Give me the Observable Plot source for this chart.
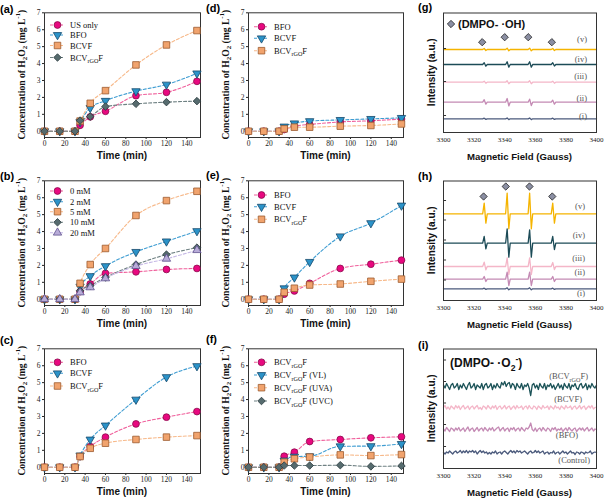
<!DOCTYPE html>
<html><head><meta charset="utf-8">
<script src="https://cdn.jsdelivr.net/npm/d3@7"></script>
<script src="https://cdn.jsdelivr.net/npm/@observablehq/plot@0.6"></script>
<style>
body{margin:0;background:#fff;}
#fig{position:relative;width:609px;height:499px;overflow:hidden;background:#fff;}
#fig svg{position:absolute;overflow:visible;}
.plab{position:absolute;font:bold 11px "Liberation Sans",Arial,sans-serif;color:#000;line-height:13px;}
</style></head><body><div id="fig"></div>
<script>
// ---------------- DATA ----------------
const time = [0, 15, 30, 35, 45, 60, 90, 120, 150];
const timeTicks = [0, 20, 40, 60, 80, 100, 120, 140];
const concTicks = [0, 1, 2, 3, 4, 5, 6, 7];

// (a)
const legendA = ["US only", "BFO", "BCVF", "BCV_{rGO}F"];
const aUSonly  = [0, 0, 0, 0.35, 0.85, 1.18, 2.10, 2.30, 2.95];
const aBFO     = [0, 0, 0, 0.55, 1.38, 1.80, 2.37, 2.76, 3.42];
const aBCVF    = [0, 0, 0, 0.60, 1.65, 2.40, 3.92, 5.10, 5.95];
const aBCVrGOF = [0, 0, 0, 0.63, 0.87, 1.46, 1.62, 1.72, 1.78];
// (b)
const legendB = ["0 mM", "2 mM", "5 mM", "10 mM", "20 mM"];
const b0  = [0, 0, 0, 0.45, 0.90, 1.53, 1.62, 1.76, 1.82];
const b2  = [0, 0, 0, 0.75, 1.37, 1.96, 2.80, 3.42, 4.03];
const b5  = [0, 0, 0, 0.94, 2.05, 3.00, 4.95, 5.83, 6.38];
const b10 = [0, 0, 0, 0.50, 0.80, 1.29, 2.05, 2.64, 3.05];
const b20 = [0, 0, 0, 0.40, 0.70, 1.23, 1.96, 2.39, 2.90];
// (c)
const legendC = ["BFO", "BCVF", "BCV_{rGO}F"];
const cBFO     = [0, 0, 0, 0.63, 1.22, 1.78, 2.56, 2.96, 3.29];
const cBCVF    = [0, 0, 0, 0.70, 1.64, 2.47, 4.00, 5.33, 5.98];
const cBCVrGOF = [0, 0, 0, 0.63, 1.12, 1.42, 1.64, 1.78, 1.87];
// (d)
const legendD = ["BFO", "BCVF", "BCV_{rGO}F"];
const dBFO     = [0, 0, 0, 0.10, 0.30, 0.40, 0.55, 0.62, 0.72];
const dBCVF    = [0, 0, 0, 0.28, 0.47, 0.60, 0.67, 0.73, 0.79];
const dBCVrGOF = [0, 0, 0, 0.14, 0.24, 0.24, 0.30, 0.34, 0.43];
// (e)
const legendE = ["BFO", "BCVF", "BCV_{rGO}F"];
const eBFO     = [0, 0, 0, 0.30, 0.49, 0.94, 1.82, 2.07, 2.31];
const eBCVF    = [0, 0, 0, 0.65, 1.29, 2.21, 3.72, 4.50, 5.54];
const eBCVrGOF = [0, 0, 0, 0.41, 0.65, 0.84, 0.90, 1.06, 1.19];
// (f)
const legendF = ["BCV_{rGO}F", "BCV_{rGO}F (VL)", "BCV_{rGO}F (UVA)", "BCV_{rGO}F (UVC)"];
const fDark = [0, 0, 0, 0.65, 0.89, 1.52, 1.64, 1.74, 1.80];
const fVL   = [0, 0, 0, 0.40, 0.63, 0.65, 1.24, 1.25, 1.38];
const fUVA  = [0, 0, 0, 0.30, 0.50, 0.60, 0.73, 0.69, 0.75];
const fUVC  = [0, 0, 0, 0.10, 0.10, 0.10, 0.12, 0.05, 0.08];

// EPR
const fieldTicks = [3300, 3320, 3340, 3360, 3380, 3400];
const ohLines = [3327, 3342, 3356.7, 3371.8];
const eprLabels = ["(v)", "(iv)", "(iii)", "(ii)", "(i)"];
// (g) baselines and [up, down] amplitudes of each DMPO-OH line (a.u.)
const gBase = [83, 68, 50.3, 30.3, 13.7];
const gAmp = [
  [[1, 1], [1.3, 1.3], [1.3, 1.3], [1, 1]],
  [[1.7, 1.7], [2.7, 2.7], [2.7, 2.7], [1.7, 1.5]],
  [[1, 1], [1.5, 1.5], [1.5, 1.5], [1, 1]],
  [[2.5, 2], [3.7, 3.7], [3, 3.3], [2, 2]],
  [[0.6, 0.6], [0.8, 0.8], [0.8, 0.8], [0.6, 0.6]]
];
const gMarkF = [3325.3, 3340, 3355.4, 3370.8];
const gMarkV = [90.3, 95.3, 95.3, 90.3];
// (h)
const hBase = [86.7, 57.3, 34, 21.3, 11.7];
const hAmp = [
  [[10.7, 9.3], [20.7, 15], [20.7, 15], [10.7, 9.3]],
  [[6.7, 5.7], [14.3, 14], [13.3, 14], [6.7, 6.3]],
  [[4.3, 3.3], [8.7, 8], [8.7, 8], [4, 3]],
  [[2.7, 2.3], [7, 6.3], [7, 6.3], [2.7, 2.3]],
  [[0.6, 0.6], [1, 1], [1, 1], [0.6, 0.6]]
];
const hMarkF = [3326.2, 3340.7, 3356.2, 3371.1];
const hMarkV = [104, 114, 114, 104];
// (i) DMPO-O2- spectra, one reading per gauss from 3300 G to 3400 G
const iLabels = ["(BCV_{rGO}F)", "(BCVF)", "(BFO)", "(Control)"];
const iBase = [82, 61, 39, 16];
const iBCVrGOF = [1.5,-1.5,3,0,-3,1.5,3,-1.5,0,3, -3,1.5,-1.5,3,0,-3,1.5,4,-1.5,0, 3,-3,1.5,0,-1.5,3,-3,1.5,3,-1.5, 0,3,-3,1.5,-1.5,3,0,-1.5,4,1.5,
  5,0,3,4,-1.5,3,1.5,-3,3,0, -1.5,3,-3,1.5,0,3,-1.5,-9,1.5,3, -1.5,1.5,-3,3,0,-1.5,3,-3,1.5,0, 3,-1.5,1.5,-3,0,3,-1.5,1.5,-3,3,
  0,-1.5,3,-3,1.5,0,3,-1.5,-3,1.5, 3,-1.5,0,3,-3,1.5,-1.5,3,0,-1.5, 1.5];
const iBCVF = [0,2,-1.5,0.5,-2,1.5,0,-1.5,2,-0.5, 1.5,-2,0.5,2,-1.5,0,1.5,-2,0.5,1.5, -1.5,0.5,2,-1.5,0,-2,1.5,0.5,-1.5,2,
  0,-1.5,1.5,-0.5,2,-2,0.5,1.5,-1.5,0, 2,-1.5,0.5,1.5,-2,0,1.5,-1.5,2,-0.5, 0,1.5,-2,0.5,1.5,-1.5,2,-0.5,-1.5,1.5,
  0.5,-2,1.5,0,-1.5,2,-0.5,0,1.5,-2, 1.5,0,-1.5,2,-0.5,0.5,-2,1.5,0,-1.5, 2,-0.5,0,1.5,-2,0.5,1.5,-1.5,0,2,
  -1.5,0.5,1.5,-2,0,1.5,-0.5,2,-1.5,0, 0.5];
const iBFO = [0.5,-1.5,2,0,-2,1.5,0.5,-1.5,1.5,-0.5, 2,-1.5,0,1.5,-2,0.5,2.5,-1.5,0.5,1.5, -2,0,2,-1.5,0.5,1.5,-1.5,2,0,-1.5,
  1.5,-0.5,2,-1.5,0,1.5,2.5,-1.5,0.5,2, -1.5,0.5,1.5,-2,1.5,0,2,-1.5,0.5,1.5, -1.5,2,0,-1.5,1.5,0.5,2.5,6.5,0,-1.5,
  1.5,-2,0.5,1.5,-1.5,2,0,-1.5,1.5,0.5, -2,1.5,0,2,-1.5,0.5,-0.5,1.5,-2,0, 1.5,-1.5,2,0,-1.5,0.5,1.5,-2,0,1.5,
  -0.5,1.5,-1.5,0.5,2,-1.5,0,1.5,-1.5,0.5, 0];
const iControl = [0,-1.5,0.5,-0.5,1.5,0,-1.5,0.5,1.5,-0.5, 0.5,2,-0.5,1.5,0,2,-0.5,1.5,0.5,2, 0,1.5,-1.5,0.5,2,0,1.5,-0.5,0.5,-1.5,
  0,-1.5,0.5,-0.5,1.5,-1.5,0,0.5,-1.5,0.5, 1.5,0,-1.5,0.5,2,0,1.5,-0.5,2,0.5, 1.5,-0.5,0.5,1.5,0,-1.5,0.5,1.5,-0.5,0,
  2,0,1.5,-0.5,0.5,1.5,-1.5,0,0.5,-1.5, 0,-0.5,1.5,-1.5,0,0.5,-1.5,0,1.5,-0.5, 0.5,-1.5,0,1.5,-0.5,0,-2,0.5,0,-1.5,
  0.5,0,-1.5,0.5,-0.5,0,1.5,-1.5,0,0.5, 0];

// ---------------- STYLES ----------------
const triDown = {draw(ctx, size) {
  const y = -Math.sqrt(size / (Math.sqrt(3) * 3));
  ctx.moveTo(0, -y * 2); ctx.lineTo(-Math.sqrt(3) * y, y); ctx.lineTo(Math.sqrt(3) * y, y); ctx.closePath();
}};
const STY = {
  mag: {symbol: d3.symbolCircle, r: 3.4, fill: "#e8087f", stroke: "#8a0b4c", line: "#f0609c"},
  blu: {symbol: triDown, r: 3.1, fill: "#2b93c9", stroke: "#17496b", line: "#3f9dd2"},
  ora: {symbol: d3.symbolSquare, r: 3.7, fill: "#f1a36d", stroke: "#9c5a2e", line: "#f7b98a"},
  gry: {symbol: d3.symbolDiamond2, r: 3.4, fill: "#566b6e", stroke: "#2a3a3d", line: "#6f8183"},
  lav: {symbol: d3.symbolTriangle, r: 3.1, fill: "#b8acd8", stroke: "#5d4f8d", line: "#c6b9e6"}
};
const eprColors = ["#f5b400", "#1c4b57", "#f4b6c8", "#c48ab4", "#4b5a7c"];
const iColors = ["#1c5358", "#f4b6c8", "#c48ab4", "#4b5a7c"];

const fig = document.getElementById("fig");
function place(svg, left, top) { svg.style.left = left + "px"; svg.style.top = top + "px"; fig.appendChild(svg); }
function panelLabel(txt, x, y) { const d = document.createElement("div"); d.className = "plab"; d.textContent = txt; d.style.left = x + "px"; d.style.top = (y - 6.5) + "px"; fig.appendChild(d); }
function rich(t, str, size) {
  const re = /([_^])\{([^}]*)\}|([^_^]+)/g; let m, shift = 0;
  while ((m = re.exec(str))) {
    if (m[3]) { const s = t.append("tspan").text(m[3]); if (shift) s.attr("dy", -shift); shift = 0; }
    else { const v = m[1] === "_" ? size * 0.3 : -size * 0.42; t.append("tspan").attr("dy", v - shift).attr("font-size", size * 0.72).text(m[2]); shift = v; }
  }
}

// ---------------- LINE PANELS ----------------
function linePanel(cfg) {
  const {left, top, width, ml, mr, xmax, series, names, leg} = cfg;
  const H = 165, mt = 12.3, mb = 28;
  const sets = series.map(([vals, key]) => ({st: STY[key], rows: time.map((t, i) => ({t, v: vals[i]}))}));
  const svg = Plot.plot({
    width, height: H, marginLeft: ml, marginRight: mr, marginTop: mt, marginBottom: mb,
    style: {fontFamily: "'Liberation Serif', serif", fontSize: "7.5px", color: "#222", background: "transparent", overflow: "visible"},
    x: {domain: [0, xmax], ticks: timeTicks, tickSize: 2, tickPadding: 1, tickFormat: d3.format("d"), label: null},
    y: {domain: [-0.37, 7], ticks: concTicks, tickSize: 2, tickPadding: 2, tickFormat: d3.format("d"), label: null},
    marks: [
      ...sets.map(s => Plot.line(s.rows, {x: "t", y: "v", stroke: s.st.line, strokeWidth: 1.1, strokeDasharray: "3,2", curve: "monotone-x"})),
      Plot.frame({stroke: "#333", strokeWidth: 1}),
      ...sets.map(s => Plot.dot(s.rows, {x: "t", y: "v", symbol: s.st.symbol, r: s.st.r, fill: s.st.fill, stroke: s.st.stroke, strokeWidth: 0.8}))
    ]
  });
  const g = d3.select(svg).append("g");
  names.forEach((nm, i) => {
    const st = STY[series[i][1]], y = leg[i];
    g.append("line").attr("x1", ml + 6).attr("x2", ml + 21).attr("y1", y).attr("y2", y).attr("stroke", st.line).attr("stroke-width", 1.1).attr("stroke-dasharray", "3,2");
    g.append("path").attr("d", d3.symbol(st.symbol, Math.PI * st.r * st.r)()).attr("transform", `translate(${ml + 13.5},${y})`).attr("fill", st.fill).attr("stroke", st.stroke).attr("stroke-width", 0.8);
    const t = g.append("text").attr("x", ml + 26).attr("y", y + 3).attr("text-anchor", "start").attr("font-family", "'Liberation Serif', serif").attr("font-size", 8.5).attr("fill", "#111");
    rich(t, nm, 8.5);
  });
  const cx = ml + (width - ml - mr) / 2;
  g.append("text").attr("x", cx).attr("y", 159).attr("text-anchor", "middle").attr("font-family", "'Liberation Sans', Arial, sans-serif").attr("font-weight", "bold").attr("font-size", 10).attr("fill", "#111").text("Time (min)");
  const cy = mt + (H - mt - mb) / 2;
  const yl = g.append("text").attr("transform", "rotate(-90)").attr("x", -cy).attr("y", 24.5).attr("text-anchor", "middle").attr("font-family", "'Liberation Serif', serif").attr("font-weight", "bold").attr("font-size", 9.6).attr("fill", "#111");
  rich(yl, "Concentration of H_{2}O_{2} (mg L^{-1})", 9.6);
  place(svg, left, top);
}

const C1 = {left: 0, width: 203, ml: 44, mr: 3, xmax: 153.5};
const C2 = {left: 204, width: 200, ml: 44, mr: 1, xmax: 152};
linePanel({...C1, top: 0, series: [[aUSonly, "mag"], [aBFO, "blu"], [aBCVF, "ora"], [aBCVrGOF, "gry"]], names: legendA, leg: [25, 35, 45.5, 57.5]});
linePanel({...C1, top: 168, series: [[b0, "mag"], [b2, "blu"], [b5, "ora"], [b10, "gry"], [b20, "lav"]], names: legendB, leg: [23, 33.7, 43.7, 54.3, 64.7]});
linePanel({...C1, top: 336, series: [[cBFO, "mag"], [cBCVF, "blu"], [cBCVrGOF, "ora"]], names: legendC, leg: [26.3, 37.3, 50]});
linePanel({...C2, top: 0, series: [[dBFO, "mag"], [dBCVF, "blu"], [dBCVrGOF, "ora"]], names: legendD, leg: [26.7, 38.3, 50.7]});
linePanel({...C2, top: 168, series: [[eBFO, "mag"], [eBCVF, "blu"], [eBCVrGOF, "ora"]], names: legendE, leg: [27, 38.7, 51.3]});
linePanel({...C2, top: 336, series: [[fDark, "mag"], [fVL, "blu"], [fUVA, "ora"], [fUVC, "gry"]], names: legendF, leg: [26.3, 39, 51.7, 65]});

// ---------------- EPR PANELS ----------------
function derivRows(base, amps) {
  const pts = [{f: 3300, v: base}];
  ohLines.forEach((p, i) => { const [u, d] = amps[i];
    pts.push({f: p - 1.4, v: base}, {f: p - 0.4, v: base + u}, {f: p + 0.7, v: base - d}, {f: p + 1.6, v: base}); });
  pts.push({f: 3400, v: base});
  return pts;
}
function noiseRows(base, vals) { return vals.map((v, i) => ({f: 3300 + i, v: base + v})); }

function eprPanel(cfg) {
  const {top, traces, colors, labels, labY, labX, ticksY, marks, title, titleSize, titleY} = cfg;
  const width = 204, H = 165, ml = 38, mr = 13, mt = 12.5, mb = 33;
  const svg = Plot.plot({
    width, height: H, marginLeft: ml, marginRight: mr, marginTop: mt, marginBottom: mb,
    style: {fontFamily: "'Liberation Serif', serif", fontSize: "7px", color: "#222", background: "transparent", overflow: "visible"},
    x: {domain: [3300, 3400], ticks: fieldTicks, tickSize: 0, tickPadding: 5, tickFormat: d3.format("d"), label: null},
    y: {domain: [0, H - mt - mb], axis: null},
    marks: [
      ...traces.map((rows, i) => Plot.line(rows, {x: "f", y: "v", stroke: colors[i], strokeWidth: 1.3})),
      Plot.ruleY(ticksY, {x1: 3300, x2: 3302, stroke: "#333"}),
      Plot.frame({stroke: "#333", strokeWidth: 1}),
      marks ? Plot.dot(marks, {x: "f", y: "v", symbol: "diamond2", r: 3.3, fill: "#8b8fa3", stroke: "#222", strokeWidth: 0.8}) : null
    ]
  });
  const g = d3.select(svg).append("g");
  labels.forEach((lb, i) => {
    const t = g.append("text").attr("x", Array.isArray(labX) ? labX[i] : labX).attr("y", labY[i] + 3).attr("text-anchor", "end")
      .attr("font-family", "'Liberation Serif', serif").attr("font-size", 8.5).attr("fill", "#555");
    rich(t, lb, 8.5);
  });
  g.append("text").attr("x", ml + (width - ml - mr) / 2).attr("y", 160).attr("text-anchor", "middle").attr("font-family", "'Liberation Sans', Arial, sans-serif").attr("font-weight", "bold").attr("font-size", 9.6).attr("fill", "#111").text("Magnetic Field (Gauss)");
  g.append("text").attr("transform", "rotate(-90)").attr("x", -(mt + (H - mt - mb) / 2)).attr("y", 30).attr("text-anchor", "middle").attr("font-family", "'Liberation Sans', Arial, sans-serif").attr("font-weight", "bold").attr("font-size", 10).attr("fill", "#111").text("Intensity (a.u.)");
  if (title) {
    let x = 45;
    if (title.diamond) {
      g.append("path").attr("d", d3.symbol(d3.symbolDiamond2, Math.PI * 3.3 * 3.3)()).attr("transform", `translate(46,${titleY})`).attr("fill", "#8b8fa3").attr("stroke", "#222").attr("stroke-width", 0.8);
      x = 53;
    }
    const t = g.append("text").attr("x", x).attr("y", titleY + titleSize * 0.36).attr("text-anchor", "start").attr("font-family", "'Liberation Sans', Arial, sans-serif").attr("font-weight", "bold").attr("font-size", titleSize).attr("fill", "#111");
    rich(t, title.text, titleSize);
  }
  place(svg, 405, top);
}

eprPanel({top: 0, traces: gBase.map((b, i) => derivRows(b, gAmp[i])), colors: eprColors, labels: eprLabels,
  labY: [39, 59, 76, 98, 116], labX: 182, ticksY: [17, 51, 84],
  marks: gMarkF.map((f, i) => ({f, v: gMarkV[i]})), title: {diamond: true, text: "(DMPO- ·OH)"}, titleSize: 11, titleY: 24});
eprPanel({top: 168, traces: hBase.map((b, i) => derivRows(b, hAmp[i])), colors: eprColors, labels: eprLabels,
  labY: [38, 67, 90, 104, 125], labX: 180, ticksY: [20.5, 40.5, 60.5, 80.5, 100],
  marks: hMarkF.map((f, i) => ({f, v: hMarkV[i]}))});
eprPanel({top: 336, traces: [noiseRows(iBase[0], iBCVrGOF), noiseRows(iBase[1], iBCVF), noiseRows(iBase[2], iBFO), noiseRows(iBase[3], iControl)],
  colors: iColors, labels: iLabels, labY: [40, 63, 99, 124], labX: [183, 177, 173, 185], ticksY: [22, 44, 65.5, 87, 108.5],
  title: {diamond: false, text: "(DMPO- ·O_{2}^{-})"}, titleSize: 12, titleY: 27});

// ---------------- PANEL LETTERS ----------------
[["(a)", 0, 9.3], ["(b)", 0, 176.7], ["(c)", 0, 340], ["(d)", 206, 8.3], ["(e)", 206, 175], ["(f)", 206, 339],
 ["(g)", 418, 7.3], ["(h)", 418, 176.7], ["(i)", 418, 345.7]].forEach(([t, x, y]) => panelLabel(t, x, y));
</script></body></html>
